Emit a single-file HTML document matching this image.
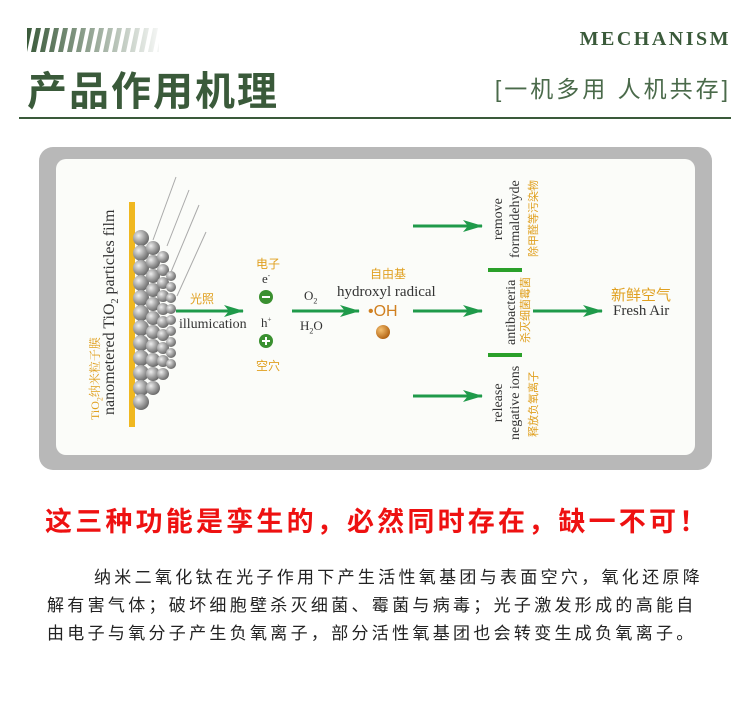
<!DOCTYPE html>
<html><head><meta charset="utf-8"><style>
body{margin:0;width:750px;height:709px;background:#fff;position:relative;overflow:hidden;font-family:"Liberation Sans","Noto Sans CJK SC",sans-serif}
.a{position:absolute;white-space:nowrap}
.cn{font-family:"Liberation Sans","Noto Sans CJK SC",sans-serif}
.sr{font-family:"Liberation Serif","Noto Serif CJK SC",serif}
.or{color:#e0a020}
.p{font-size:17px;color:#222;letter-spacing:3.3px}
</style></head><body>
<svg class="a" style="left:27px;top:28px" width="132" height="24">
<defs><linearGradient id="sg" x1="0" x2="1"><stop offset="0" stop-color="#3a5a3a"/><stop offset="1" stop-color="#3a5a3a" stop-opacity="0.05"/></linearGradient>
<pattern id="st" width="9" height="24" patternUnits="userSpaceOnUse"><polygon points="5,0 9,0 4,24 0,24" fill="#fff"/></pattern></defs>
<rect width="132" height="24" fill="url(#sg)"/>
<rect width="132" height="24" fill="url(#st)"/>
</svg>
<div class="a sr" style="right:19px;top:28px;font-size:20px;font-weight:bold;color:#3a5a3a;letter-spacing:2.5px">MECHANISM</div>
<div class="a cn" style="left:27px;top:59px;font-size:40px;font-weight:bold;color:#3a5a3a;letter-spacing:2px">产品作用机理</div>
<div class="a cn" style="right:19px;top:70px;font-size:23px;color:#4a6a4a;letter-spacing:3px">[一机多用 人机共存]</div>
<div class="a" style="left:19px;top:117px;width:712px;height:2px;background:#3a5a3a"></div>

<div class="a" style="left:39px;top:147px;width:673px;height:323px;background:#b8b8b8;border-radius:14px"></div>
<div class="a" style="left:56px;top:159px;width:639px;height:296px;background:#fbfcf9;border-radius:10px"></div>

<svg class="a" style="left:0;top:0" width="750" height="709">
<defs>
<radialGradient id="b" cx="0.35" cy="0.35" r="0.7"><stop offset="0" stop-color="#eee"/><stop offset="0.6" stop-color="#9a9a9a"/><stop offset="1" stop-color="#666"/></radialGradient>
<radialGradient id="ob" cx="0.35" cy="0.35" r="0.7"><stop offset="0" stop-color="#f5c070"/><stop offset="1" stop-color="#b06010"/></radialGradient>
<marker id="ar" markerWidth="20" markerHeight="12" refX="19" refY="6" orient="auto" markerUnits="userSpaceOnUse"><polygon points="0,0 20,6 0,12 5,6" fill="#1f9a4a"/></marker>
</defs>
<rect x="129" y="202" width="6" height="225" fill="#f0b820"/>
<g fill="url(#b)">
<circle cx="141" cy="238" r="8"/><circle cx="141" cy="253" r="8"/><circle cx="141" cy="268" r="8"/><circle cx="141" cy="283" r="8"/><circle cx="141" cy="298" r="8"/><circle cx="141" cy="313" r="8"/><circle cx="141" cy="328" r="8"/><circle cx="141" cy="343" r="8"/><circle cx="141" cy="358" r="8"/><circle cx="141" cy="373" r="8"/><circle cx="141" cy="388" r="8"/><circle cx="141" cy="402" r="8"/>
<circle cx="153" cy="248" r="7"/><circle cx="153" cy="262" r="7"/><circle cx="153" cy="276" r="7"/><circle cx="153" cy="290" r="7"/><circle cx="153" cy="304" r="7"/><circle cx="153" cy="318" r="7"/><circle cx="153" cy="332" r="7"/><circle cx="153" cy="346" r="7"/><circle cx="153" cy="360" r="7"/><circle cx="153" cy="374" r="7"/><circle cx="153" cy="388" r="7"/>
<circle cx="163" cy="257" r="6"/><circle cx="163" cy="270" r="6"/><circle cx="163" cy="283" r="6"/><circle cx="163" cy="296" r="6"/><circle cx="163" cy="309" r="6"/><circle cx="163" cy="322" r="6"/><circle cx="163" cy="335" r="6"/><circle cx="163" cy="348" r="6"/><circle cx="163" cy="361" r="6"/><circle cx="163" cy="374" r="6"/>
<circle cx="171" cy="276" r="5"/><circle cx="171" cy="287" r="5"/><circle cx="171" cy="298" r="5"/><circle cx="171" cy="309" r="5"/><circle cx="171" cy="320" r="5"/><circle cx="171" cy="331" r="5"/><circle cx="171" cy="342" r="5"/><circle cx="171" cy="353" r="5"/><circle cx="171" cy="364" r="5"/>
</g>
<g stroke="#aaa" stroke-width="1">
<line x1="176" y1="177" x2="153" y2="240"/><line x1="189" y1="190" x2="167" y2="246"/><line x1="199" y1="205" x2="171" y2="272"/><line x1="206" y1="232" x2="177" y2="296"/>
</g>
<g stroke="#1f9a4a" stroke-width="3" marker-end="url(#ar)">
<line x1="176" y1="311" x2="243" y2="311"/>
<line x1="292" y1="311" x2="359" y2="311"/>
<line x1="413" y1="226" x2="482" y2="226"/>
<line x1="413" y1="311" x2="482" y2="311"/>
<line x1="413" y1="396" x2="482" y2="396"/>
<line x1="533" y1="311" x2="602" y2="311"/>
</g>
<rect x="488" y="268" width="34" height="4" fill="#2aa02a"/>
<rect x="488" y="353" width="34" height="4" fill="#2aa02a"/>
<circle cx="266" cy="297" r="7" fill="#3a9030"/><rect x="262" y="296" width="8" height="2" fill="#fff"/>
<circle cx="266" cy="341" r="7" fill="#3a9030"/><rect x="262" y="340" width="8" height="2" fill="#fff"/><rect x="265" y="337" width="2" height="8" fill="#fff"/>
<circle cx="383" cy="332" r="7" fill="url(#ob)"/>
</svg>

<div class="a sr" style="left:86px;top:420px;transform-origin:0 0;transform:rotate(-90deg);font-size:12px;color:#e0a020">TiO<sub style="font-size:8px">2</sub>纳米粒子膜</div>
<div class="a sr" style="left:101px;top:415px;transform-origin:0 0;transform:rotate(-90deg);font-size:16px;color:#333">nanometered TiO<sub style="font-size:10px">2</sub> particles film</div>
<div class="a or" style="left:190px;top:290px;font-size:12px">光照</div>
<div class="a sr" style="left:179px;top:317px;font-size:14px;color:#333">illumication</div>
<div class="a or" style="left:256px;top:255px;font-size:12px">电子</div>
<div class="a sr" style="left:262px;top:271px;font-size:13px;color:#333">e<sup style="font-size:7px">-</sup></div>
<div class="a sr" style="left:261px;top:315px;font-size:13px;color:#333">h<sup style="font-size:7px">+</sup></div>
<div class="a or" style="left:256px;top:357px;font-size:12px">空穴</div>
<div class="a sr" style="left:304px;top:288px;font-size:13px;color:#333">O<sub style="font-size:8px">2</sub></div>
<div class="a sr" style="left:300px;top:318px;font-size:13px;color:#333">H<sub style="font-size:8px">2</sub>O</div>
<div class="a or" style="left:370px;top:265px;font-size:12px">自由基</div>
<div class="a sr" style="left:337px;top:284px;font-size:15px;color:#333">hydroxyl radical</div>
<div class="a or" style="left:368px;top:303px;font-size:16px;color:#d08020">•OH</div>

<div class="a sr" style="left:490px;top:258px;transform-origin:0 0;transform:rotate(-90deg);font-size:14px;line-height:17px;color:#333;text-align:center">remove<br>formaldehyde</div>
<div class="a or" style="left:525px;top:257px;transform-origin:0 0;transform:rotate(-90deg);font-size:11px">除甲醛等污染物</div>
<div class="a sr" style="left:504px;top:345px;transform-origin:0 0;transform:rotate(-90deg);font-size:14px;color:#333">antibacteria</div>
<div class="a or" style="left:517px;top:343px;transform-origin:0 0;transform:rotate(-90deg);font-size:11px">杀灭细菌霉菌</div>
<div class="a sr" style="left:490px;top:440px;transform-origin:0 0;transform:rotate(-90deg);font-size:14px;line-height:17px;color:#333;text-align:center">release<br>negative ions</div>
<div class="a or" style="left:525px;top:437px;transform-origin:0 0;transform:rotate(-90deg);font-size:11px">释放负氧离子</div>
<div class="a or" style="left:611px;top:284px;font-size:15px">新鲜空气</div>
<div class="a sr" style="left:613px;top:303px;font-size:15px;color:#333">Fresh Air</div>

<div class="a cn" style="left:45px;top:500px;font-size:27px;font-weight:bold;color:#ee1111;letter-spacing:3.2px">这三种功能是孪生的，必然同时存在，缺一不可！</div>
<div class="a cn p" style="left:94px;top:563px">纳米二氧化钛在光子作用下产生活性氧基团与表面空穴，氧化还原降</div>
<div class="a cn p" style="left:47px;top:591px">解有害气体；破坏细胞壁杀灭细菌、霉菌与病毒；光子激发形成的高能自</div>
<div class="a cn p" style="left:47px;top:619px">由电子与氧分子产生负氧离子，部分活性氧基团也会转变生成负氧离子。</div>
</body></html>
